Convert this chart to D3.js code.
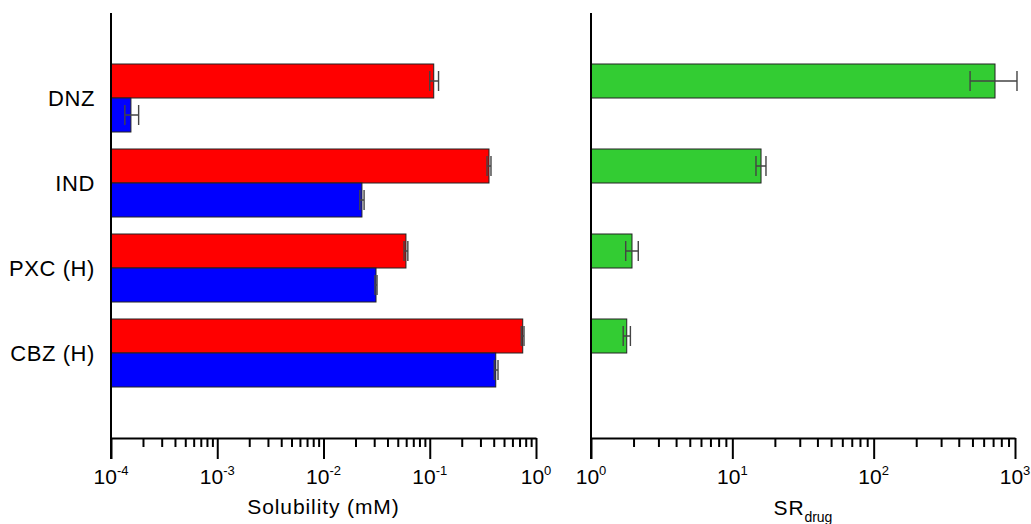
<!DOCTYPE html>
<html>
<head>
<meta charset="utf-8">
<script src="https://cdn.jsdelivr.net/npm/d3@7"></script>
<style>
  body { margin: 0; background: #fff; }
  svg { display: block; font-family: "Liberation Sans", Arial, sans-serif; }
  .axis path, .axis line { stroke: #000; stroke-width: 2; }
  .err { stroke: #444; stroke-width: 1.4; fill: none; }
</style>
</head>
<body>
<svg id="chart" width="1031" height="524"></svg>
<script>
// Solubility (left) and SR_drug (right)

var drugs = ["DNZ", "IND", "PXC (H)", "CBZ (H)"];

var solRed    = [0.109, 0.361, 0.0597, 0.750];
var solRedLo  = [0.100, 0.346, 0.0573, 0.727];
var solRedHi  = [0.121, 0.377, 0.0622, 0.771];

var solBlue   = [1.54e-4, 0.0230, 0.0312, 0.418];
var solBlueLo = [1.35e-4, 0.0220, 0.0305, 0.405];
var solBlueHi = [1.82e-4, 0.0241, 0.0319, 0.439];

var srDrug    = [722, 15.96, 1.95, 1.79];
var srLo      = [481, 14.7, 1.76, 1.69];
var srHi      = [1033, 17.3, 2.16, 1.90];

var solExps = [-4, -3, -2, -1, 0];
var srExps  = [0, 1, 2, 3];

var svg = d3.select("#chart");

var yTop = 13, yBottom = 438
  , barH = 34
  ;

// categories sit on 4,3,2,1 of a 0..5 scale
var y = d3.scaleLinear().domain([0, 5]).range([yBottom, yTop]);
function cy (i) { return y(drugs.length - i); }

var xSol = d3.scaleLog().domain([1e-4, 1]).range([111, 536]);
var xSR  = d3.scaleLog().domain([1, 1000]).range([591, 1015]);

function minorTicks (exps) {
  var t = [];
  for (var k = 0; k < exps.length - 1; k += 1) {
    for (var m = 2; m <= 9; m += 1) t.push(m * Math.pow(10, exps[k]));
  }
  return t;
}

function drawBars (x, vals, lo, hi, color, offset) {
  var g = svg.append("g");
  g.selectAll("rect").data(vals).enter().append("rect")
   .attr("x", x.range()[0])
   .attr("y", function (d, i) { return cy(i) + offset; })
   .attr("width", function (d) { return x(d) - x.range()[0]; })
   .attr("height", barH)
   .attr("fill", color)
   .attr("stroke", "#222")
   .attr("stroke-width", 1);

  var e = g.selectAll("g.e").data(vals).enter().append("g").attr("class", "e");
  e.append("path")
   .attr("class", "err")
   .attr("d", function (d, i) {
     var yc = cy(i) + offset + barH / 2
       , a = x(lo[i]), b = x(hi[i]);
     return "M" + a + "," + yc + "H" + b +
            "M" + a + "," + (yc - 10) + "V" + (yc + 10) +
            "M" + b + "," + (yc - 10) + "V" + (yc + 10);
   });
}

function drawAxis (x, exps) {
  var g = svg.append("g").attr("class", "axis")
             .attr("transform", "translate(0," + yBottom + ")");
  g.call(d3.axisBottom(x).tickValues(minorTicks(exps)).tickSize(9).tickSizeOuter(0).tickFormat(""));
  var g2 = svg.append("g").attr("class", "axis")
              .attr("transform", "translate(0," + yBottom + ")");
  g2.call(d3.axisBottom(x).tickValues(exps.map(function (e) { return Math.pow(10, e); }))
            .tickSize(21).tickSizeOuter(0).tickFormat(""));
  g2.select(".domain").remove();

  var lab = svg.append("g").selectAll("text").data(exps).enter().append("text")
               .attr("x", function (e) { return x(Math.pow(10, e)); })
               .attr("y", 484)
               .attr("text-anchor", "middle")
               .attr("font-size", 21);
  lab.append("tspan").text("10");
  lab.append("tspan").attr("dy", -9).attr("font-size", 13).text(function (e) { return e; });

  // vertical axis line
  svg.append("line")
     .attr("x1", x.range()[0]).attr("x2", x.range()[0])
     .attr("y1", yTop).attr("y2", yBottom + 21)
     .attr("stroke", "#000").attr("stroke-width", 2);
}

drawBars(xSol, solRed, solRedLo, solRedHi, "#ff0000", -barH);
drawBars(xSol, solBlue, solBlueLo, solBlueHi, "#0000ff", 0);
drawBars(xSR, srDrug, srLo, srHi, "#33cc33", -barH);

drawAxis(xSol, solExps);
drawAxis(xSR, srExps);

// category labels
svg.append("g").selectAll("text").data(drugs).enter().append("text")
   .attr("x", 95)
   .attr("y", function (d, i) { return cy(i) + 8; })
   .attr("text-anchor", "end")
   .attr("font-size", 22)
   .attr("letter-spacing", 0.6)
   .text(function (d) { return d; });

// axis titles
svg.append("text")
   .attr("x", (xSol.range()[0] + xSol.range()[1]) / 2)
   .attr("y", 514)
   .attr("text-anchor", "middle")
   .attr("font-size", 21)
   .attr("letter-spacing", 0.9)
   .text("Solubility (mM)");

var sr = svg.append("text")
   .attr("x", (xSR.range()[0] + xSR.range()[1]) / 2)
   .attr("y", 515)
   .attr("text-anchor", "middle")
   .attr("font-size", 21);
sr.append("tspan").attr("letter-spacing", 0.8).text("SR");
sr.append("tspan").attr("dy", 7).attr("font-size", 14).text("drug");
</script>
</body>
</html>
